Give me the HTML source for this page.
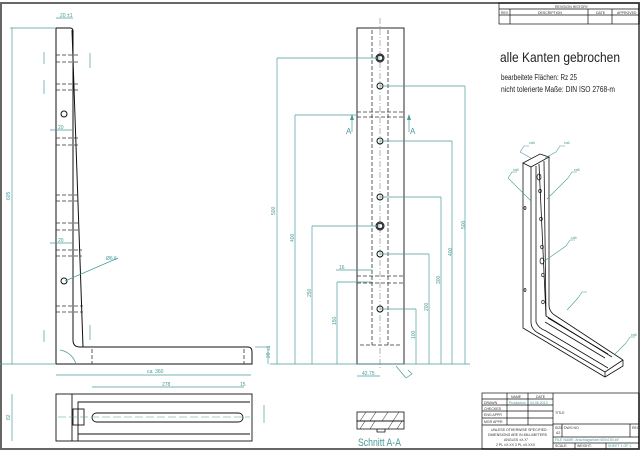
<!DOCTYPE html>
<html><head><meta charset="utf-8"><style>
html,body{margin:0;padding:0;background:#fff;}
svg{display:block;}
text{font-family:"Liberation Sans",sans-serif;}
</style></head><body>
<svg width="640" height="454" viewBox="0 0 640 454" xmlns="http://www.w3.org/2000/svg">
<rect x="1" y="3" width="638" height="446" fill="none" stroke="#666" stroke-width="2"/>

<!-- Side view -->
<g fill="none" stroke="#111" stroke-width="1">
<line x1="56" y1="28" x2="56" y2="364" stroke="#888" stroke-width="2"/>
<path d="M56,28 L70,28 Q73,28 73,31 L73,340 Q73,347 80,347 L248,347 Q252,347 252,352 L252,364 L56,364"/>
<line x1="72" y1="30" x2="83" y2="347"/>
</g>
<g fill="none" stroke="#333" stroke-width="0.8" stroke-dasharray="4,2">
<line x1="92" y1="349" x2="92" y2="364"/><line x1="244" y1="349" x2="244" y2="364"/>
<line x1="56" y1="55" x2="80" y2="55"/><line x1="56" y1="62" x2="80" y2="62"/>
<line x1="56" y1="84" x2="80" y2="84"/><line x1="56" y1="90" x2="80" y2="90"/>
<line x1="56" y1="138" x2="80" y2="138"/><line x1="56" y1="145" x2="80" y2="145"/>
<line x1="56" y1="195" x2="80" y2="195"/><line x1="56" y1="201" x2="80" y2="201"/>
<line x1="56" y1="223" x2="80" y2="223"/><line x1="56" y1="230" x2="80" y2="230"/>
<line x1="56" y1="250" x2="82" y2="250"/><line x1="56" y1="256" x2="82" y2="256"/>
<line x1="56" y1="306" x2="83" y2="306"/><line x1="56" y1="312" x2="83" y2="312"/>
</g>
<circle cx="64" cy="114" r="3" fill="none" stroke="#111"/>
<circle cx="64" cy="281" r="3" fill="none" stroke="#111"/>
<g stroke="#4a9a9a" stroke-width="0.7" fill="none">
<line x1="12" y1="28" x2="12" y2="364"/><line x1="10" y1="28" x2="56" y2="28"/>
<line x1="0" y1="364" x2="56" y2="364"/>
<line x1="56" y1="375" x2="251" y2="375"/><line x1="56" y1="18" x2="73" y2="18"/>
<line x1="90" y1="53" x2="90" y2="68"/><line x1="44" y1="52" x2="44" y2="64"/><line x1="44" y1="80" x2="44" y2="94"/>
<line x1="50" y1="130" x2="73" y2="130"/><line x1="50" y1="243" x2="73" y2="243"/>
<line x1="65" y1="281" x2="118" y2="258"/>
<line x1="12" y1="394" x2="12" y2="441"/><line x1="92" y1="387" x2="244" y2="387"/>
<line x1="264" y1="405" x2="264" y2="423"/>
<line x1="255" y1="347" x2="270" y2="347"/><line x1="268" y1="347" x2="268" y2="364"/>
<line x1="44" y1="330" x2="44" y2="342"/><line x1="90" y1="325" x2="90" y2="340"/>
<path d="M60,350 A20,20 0 0 1 76,364"/>
</g>
<g fill="#4a9a9a" font-size="5">
<text x="6" y="200" transform="rotate(-90 8 198)">605</text>
<text x="147" y="373">ca. 360</text><text x="60" y="17">20 ±1</text>
<text x="58" y="129">20</text><text x="58" y="242">20</text>
<text x="106" y="260">Ø6.6</text>
<text x="6" y="420" transform="rotate(-90 8 418)">82</text>
<text x="162" y="386">278</text><text x="240" y="386">15</text>
<text x="270" y="358" transform="rotate(-90 270 358)">20 ±1</text>
</g>

<!-- Bottom view -->
<g fill="none" stroke="#111" stroke-width="0.9">
<rect x="56" y="394" width="196" height="47"/>
<line x1="72" y1="394" x2="72" y2="441"/>
<path d="M78,441 L78,402 L250,402"/><path d="M78,434 L250,434"/>
<rect x="92" y="413" width="151" height="9" rx="4.5"/>
<rect x="73" y="409" width="11" height="16"/>
</g>
<line x1="58" y1="417" x2="250" y2="417" stroke="#4a9a9a" stroke-width="0.6" stroke-dasharray="8,3"/>

<!-- Front view -->
<g fill="none" stroke="#111" stroke-width="0.9">
<rect x="357" y="28" width="47" height="336"/>
</g>
<g fill="none" stroke="#333" stroke-width="0.8" stroke-dasharray="4,2">
<line x1="372" y1="30" x2="372" y2="345"/><line x1="388" y1="30" x2="388" y2="345"/>
<line x1="357" y1="112" x2="404" y2="112"/><line x1="357" y1="117" x2="404" y2="117"/>
<line x1="357" y1="276" x2="404" y2="276"/><line x1="357" y1="283" x2="404" y2="283"/>
<line x1="360" y1="345" x2="400" y2="345"/>
</g>
<line x1="380" y1="18" x2="380" y2="370" stroke="#666" stroke-width="0.5" stroke-dasharray="6,2,1,2"/>
<g fill="none" stroke="#111">
<circle cx="380" cy="58" r="4"/><circle cx="380" cy="58" r="2.8"/>
<circle cx="380" cy="86" r="3"/><circle cx="380" cy="141" r="3"/><circle cx="380" cy="197" r="3"/>
<circle cx="380" cy="226" r="4"/><circle cx="380" cy="226" r="2.8"/>
<circle cx="380" cy="254" r="3"/><circle cx="380" cy="309" r="3"/>
</g>
<g stroke="#4a9a9a" stroke-width="0.7" fill="none">
<line x1="277" y1="58" x2="380" y2="58"/><line x1="277" y1="58" x2="277" y2="364"/>
<line x1="295" y1="115" x2="357" y2="115"/><line x1="295" y1="115" x2="295" y2="364"/>
<line x1="312" y1="226" x2="380" y2="226"/><line x1="312" y1="226" x2="312" y2="364"/>
<line x1="337" y1="282" x2="372" y2="282"/><line x1="337" y1="282" x2="337" y2="364"/>
<line x1="336" y1="270" x2="372" y2="270"/>
<line x1="380" y1="86" x2="465" y2="86"/><line x1="465" y1="86" x2="465" y2="364"/>
<line x1="380" y1="141" x2="452" y2="141"/><line x1="452" y1="141" x2="452" y2="364"/>
<line x1="380" y1="197" x2="441" y2="197"/><line x1="441" y1="197" x2="441" y2="364"/>
<line x1="380" y1="254" x2="429" y2="254"/><line x1="429" y1="254" x2="429" y2="364"/>
<line x1="380" y1="309" x2="416" y2="309"/><line x1="416" y1="309" x2="416" y2="364"/>
<line x1="270" y1="364" x2="470" y2="364"/>
<line x1="357" y1="376" x2="380" y2="376"/>
<line x1="352" y1="115" x2="352" y2="132"/><line x1="409" y1="115" x2="409" y2="132"/>
<path d="M396,366 L406,378 M406,378 l6,-4 l-4,-4"/>
</g>
<g fill="#4a9a9a">
<path d="M352,114 l-2,6 h4z"/><path d="M409,114 l-2,6 h4z"/>
</g>
<g fill="#4a9a9a" font-size="5">
<text x="271" y="215" transform="rotate(-90 273 213)">500</text>
<text x="290" y="242" transform="rotate(-90 292 240)">400</text>
<text x="307" y="297" transform="rotate(-90 309 295)">250</text>
<text x="332" y="325" transform="rotate(-90 334 323)">150</text>
<text x="339" y="269">16</text>
<text x="461" y="229" transform="rotate(-90 463 227)">500</text>
<text x="448" y="256" transform="rotate(-90 450 254)">400</text>
<text x="436" y="284" transform="rotate(-90 438 282)">300</text>
<text x="424" y="311" transform="rotate(-90 426 309)">200</text>
<text x="411" y="339" transform="rotate(-90 413 337)">100</text>
<text x="362" y="375">42.75</text>
</g>
<text x="346" y="134" font-size="8" fill="#4a9a9a">A</text>
<text x="410" y="134" font-size="8" fill="#4a9a9a">A</text>

<!-- Section A-A -->
<g stroke="#111" stroke-width="0.8" fill="none">
<rect x="357" y="412" width="47" height="9"/><rect x="357" y="421" width="47" height="8"/>
<path d="M377,429 v3 h8 v-3"/>
<path d="M360,421 l6,-9 M370,421 l6,-9 M382,421 l6,-9 M393,421 l6,-9 M360,429 l5,-8 M370,429 l5,-8 M388,429 l5,-8 M397,429 l5,-8" stroke-width="0.5"/>
</g>
<text x="358" y="446" font-size="11" fill="#4a9a9a" textLength="43" lengthAdjust="spacingAndGlyphs">Schnitt A-A</text>

<!-- Revision table -->
<g stroke="#111" stroke-width="0.7" fill="none">
<rect x="499" y="3" width="140" height="21"/>
<line x1="499" y1="9" x2="639" y2="9"/><line x1="499" y1="15" x2="639" y2="15"/>
<line x1="510" y1="9" x2="510" y2="24"/><line x1="588" y1="9" x2="588" y2="24"/><line x1="612" y1="9" x2="612" y2="24"/>
</g>
<g font-size="3.5" fill="#333">
<text x="555" y="8">REVISION HISTORY</text><text x="501" y="14">REV</text>
<text x="538" y="14">DESCRIPTION</text><text x="596" y="14">DATE</text><text x="617" y="14">APPROVED</text>
</g>

<text x="500" y="62" font-size="14" fill="#222" textLength="120" lengthAdjust="spacingAndGlyphs">alle Kanten gebrochen</text>
<text x="501" y="80" font-size="8" fill="#222" textLength="76" lengthAdjust="spacingAndGlyphs">bearbeitete Flächen: Rz 25</text>
<text x="501" y="92" font-size="8" fill="#222" textLength="114" lengthAdjust="spacingAndGlyphs">nicht tolerierte Maße: DIN ISO 2768-m</text>

<!-- Iso view -->
<g fill="none" stroke="#111" stroke-width="0.8">
<path d="M523,163 L540,154 L549,157 L531,167 Z"/>
<path d="M523,163 L523,328 L605,377 L623,366 L623,360"/>
<path d="M531,167 L531,322 Q531,330 540,334 L605,372 L605,377"/>
<path d="M549,157 L549,305 Q549,312 556,316 L623,360"/>
<path d="M605,372 L623,360"/>
<path d="M536,166 L536,322 Q538,328 546,331 L608,368"/>
<path d="M544,161 L546,316 L612,357"/>
<path d="M539,164 L546,316"/>
<path d="M545,322 L605,358 M548,318 L608,354"/>
</g>
<g fill="none" stroke="#111" stroke-width="0.7">
<ellipse cx="539" cy="177" rx="2" ry="3"/><ellipse cx="540" cy="191" rx="1.3" ry="1.8"/>
<ellipse cx="541" cy="219" rx="1.3" ry="1.8"/><ellipse cx="542" cy="247" rx="1.3" ry="1.8"/>
<ellipse cx="542" cy="261" rx="2" ry="3"/><ellipse cx="543" cy="275" rx="1.3" ry="1.8"/>
<ellipse cx="543" cy="302" rx="1.3" ry="1.8"/>
<ellipse cx="525" cy="208" rx="1" ry="1.5"/><ellipse cx="525" cy="290" rx="1" ry="1.5"/>
</g>
<g stroke="#4a9a9a" stroke-width="0.6" fill="none">
<path d="M531,158 L520,152 M520,152 l4,-6 h5"/>
<path d="M545,158 L556,152 M556,152 l4,-6 h5"/>
<path d="M531,201 L508,178 M508,178 l4,-6 h5"/>
<path d="M547,199 L568,178 M568,178 l4,-6 h5"/>
<path d="M543,262 L566,246 M566,246 l4,-6 h5"/>
<path d="M567,310 L578,298 M578,298 l4,-6 h5"/>
<path d="M614,355 L626,343 M626,343 l4,-6 h5"/>
</g>
<g fill="#4a9a9a" font-size="4"><text x="529" y="144">ra6</text><text x="564" y="144">ra6</text><text x="513" y="171">ra6</text><text x="574" y="171">ra6</text><text x="571" y="239">ra6</text><text x="631" y="336">ra6</text></g>

<!-- Title block -->
<g stroke="#111" stroke-width="0.7" fill="none">
<rect x="482" y="393" width="157" height="56"/>
<line x1="553" y1="393" x2="553" y2="449"/>
<line x1="482" y1="399" x2="553" y2="399"/><line x1="482" y1="405" x2="553" y2="405"/>
<line x1="482" y1="411" x2="553" y2="411"/><line x1="482" y1="418" x2="553" y2="418"/>
<line x1="482" y1="425" x2="553" y2="425"/>
<line x1="507" y1="393" x2="507" y2="425"/><line x1="528" y1="393" x2="528" y2="425"/>
<line x1="553" y1="424" x2="639" y2="424"/><line x1="553" y1="437" x2="639" y2="437"/><line x1="553" y1="443" x2="639" y2="443"/>
<line x1="562" y1="424" x2="562" y2="437"/><line x1="630" y1="424" x2="630" y2="437"/>
<line x1="575" y1="443" x2="575" y2="449"/><line x1="606" y1="443" x2="606" y2="449"/>
</g>
<g font-size="3.5" fill="#333">
<text x="511" y="398">NAME</text><text x="536" y="398">DATE</text>
<text x="484" y="404">DRAWN</text><text x="509" y="404" fill="#4a9a9a">Produktion</text><text x="530" y="404" fill="#4a9a9a">04.06.2013</text>
<text x="484" y="410">CHECKED</text><text x="484" y="416">ENG APPR</text><text x="484" y="423">MGR APPR</text>
<text x="491" y="431">UNLESS OTHERWISE SPECIFIED:</text><text x="488" y="436">DIMENSIONS ARE IN MILLIMETERS</text>
<text x="504" y="441">ANGLES ±X.X°</text><text x="496" y="446">2 PL ±X.XX 3 PL ±X.XXX</text>
<text x="555" y="414">TITLE</text><text x="555" y="429">SIZE</text><text x="556" y="434">A2</text><text x="564" y="429">DWG NO</text><text x="632" y="429">REV</text>
<text x="555" y="441" fill="#4a9a9a">FILE NAME: Anschlagwinkel 600x150.idf</text>
<text x="555" y="447">SCALE:</text><text x="577" y="447">WEIGHT:</text><text x="608" y="447" fill="#4a9a9a">SHEET 1 OF 1</text>
</g>
</svg>
</body></html>
